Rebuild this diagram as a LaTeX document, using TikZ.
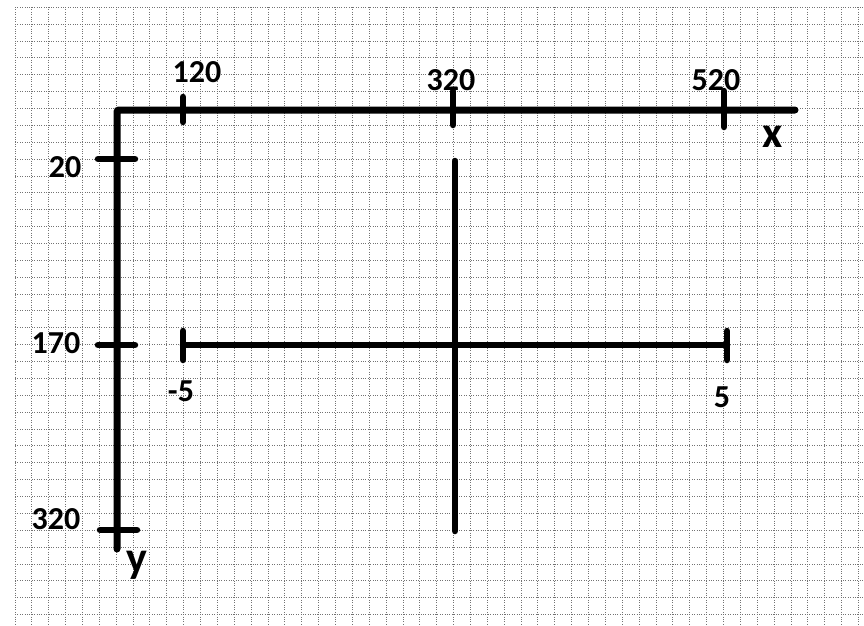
\documentclass[tikz,border=0pt]{standalone}
\usepackage{fontspec}
\setmainfont{Carlito}
\usetikzlibrary{positioning}

\begin{document}
\begin{tikzpicture}[
      x=1pt, y=-1pt,
      gridline/.style={line width=1pt, color=black!55, dash pattern=on 1pt off 1.4pt},
      axisline/.style={line width=7pt, color=black, line cap=round, rounded corners=2pt},
      tickmark/.style={line width=6.5pt, color=black, line cap=round},
      numlab/.style={inner sep=0pt, font=\fontsize{32}{32}\selectfont\bfseries, text=black},
      axlab/.style={inner sep=0pt, font=\fontsize{44}{44}\selectfont\bfseries, text=black}
    ]
    \useasboundingbox (0,0) rectangle (864,625);
    % Grid paper
    \foreach \i in {0,...,50}
      \draw[gridline] ({15+\i*16.87},7) -- ({15+\i*16.87},625);
    \foreach \j in {0,...,36}
      \draw[gridline] (15,{7.3+\j*16.87}) -- (864,{7.3+\j*16.87});
    % Axes
    \coordinate (o) at (117,110);
    \coordinate (xend) at (795,110);
    \coordinate (yend) at (117,549);
    \draw[axisline] (xend) -- (o) -- (yend);
    % Ticks on x
    \draw[tickmark] (183,97) -- (183,122);
    \draw[tickmark] (453,91) -- (453,125);
    \draw[tickmark] (724,91) -- (724,127);
    % Ticks on y
    \draw[tickmark] (98,159) -- (135,159);
    \draw[tickmark] (98,345) -- (135,345);
    \draw[tickmark] (100,530) -- (137,530);
    % Labels
    \node[numlab] (x120) at (197,72) {120};
    \node[numlab] (x320) at (451,80) {320};
    \node[numlab] (x520) at (716,80) {520};
    \node[numlab] (y20) at (65,167) {20};
    \node[numlab] (y170) at (56,343) {170};
    \node[numlab] (y320) at (56,519) {320};
    \node[axlab] (xname) at (773,137) {x};
    \node[axlab] (yname) at (137,565) {y};
    % Cross: range from -5 to 5
    \coordinate (lft) at (183,345);
    \coordinate (rgt) at (727,345);
    \coordinate (top) at (455,161);
    \coordinate (bot) at (455,531);
    \draw[tickmark] (lft) -- (rgt);
    \draw[tickmark] (top) -- (bot);
    \draw[tickmark] (183,331) -- (183,360);
    \draw[tickmark] (727,331) -- (727,360);
    \node[numlab] (mfive) at (181,391) {-5};
    \node[numlab] (pfive) at (722,397) {5};
\end{tikzpicture}
\end{document}
